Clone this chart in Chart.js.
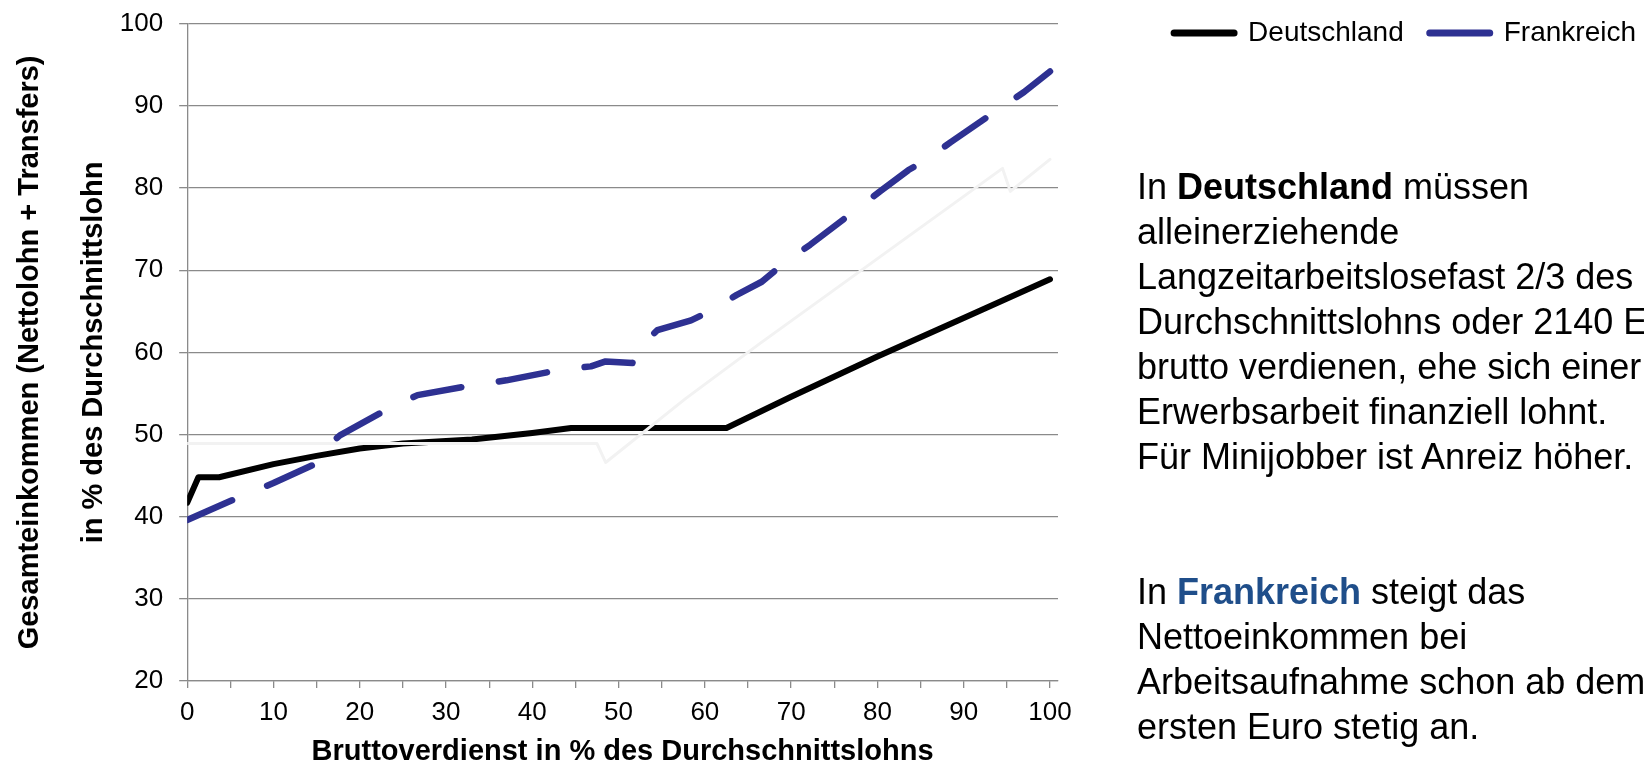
<!DOCTYPE html>
<html lang="de">
<head>
    <meta charset="UTF-8">
    <title>Gesamteinkommen Deutschland / Frankreich</title>
    <script src="https://cdn.jsdelivr.net/npm/chart.js"></script>
    <style>
        body {
            margin: 0;
            width: 1644px;
            height: 766px;
            overflow: hidden;
            background: #fff;
            font-family: "Liberation Sans", Arial, sans-serif;
        }

        #chart {
            position: absolute;
            left: 0;
            top: 0;
        }

        .note {
            position: absolute;
            left: 1137px;
            top: 164px;
            font-size: 36px;
            line-height: 45px;
            white-space: nowrap;
            color: #000;
        }

        .note .fr {
            color: #1f4e8a;
        }
    </style>
</head>
<body>
    <canvas id="chart" width="1644" height="766"></canvas>

    <div class="note">
        In <b>Deutschland</b> müssen<br>
        alleinerziehende<br>
        Langzeitarbeitslosefast 2/3 des<br>
        Durchschnittslohns oder 2140 Euro<br>
        brutto verdienen, ehe sich einer<br>
        Erwerbsarbeit finanziell lohnt.<br>
        Für Minijobber ist Anreiz höher.<br>
        <br>
        <br>
        In <b class="fr">Frankreich</b> steigt das<br>
        Nettoeinkommen bei<br>
        Arbeitsaufnahme schon ab dem<br>
        ersten Euro stetig an.
    </div>

    <script>
        // Bruttoverdienst (x) und Gesamteinkommen (y), jeweils in % des Durchschnittslohns
        const deX = [0, 1.3, 3.7, 10, 15, 20, 25, 33, 40, 44.5, 62.5, 70, 80, 90, 100];
        const deY = [41.7, 44.8, 44.8, 46.4, 47.4, 48.3, 48.9, 49.4, 50.2, 50.8, 50.8, 54.6, 59.5, 64.2, 68.9];

        const frX = [0, 5, 10, 14.6, 15.2, 17.7, 23.4, 26.7, 33, 37, 43.3, 46.8, 48.5, 51.6, 52.2, 54.5,
                     58.4, 60.4, 63.7, 66.6, 69.1, 72.2, 77.2, 80.3, 83.6, 85.6, 88.5, 93.9, 97, 100];
        const frY = [39.6, 41.9, 44.1, 46.3, 47.6, 49.9, 53.2, 54.8, 56.0, 56.6, 57.9, 58.3, 58.9, 58.7, 60.5, 62.7,
                     63.9, 64.9, 67.0, 68.6, 70.8, 73.1, 77.1, 79.6, 82.2, 83.4, 85.6, 89.5, 91.7, 94.2];

        // kaum sichtbare Hilfslinie (Minijob)
        const mjX = [0, 47.5, 48.5, 57.8, 66.4, 94.5, 95.4, 100];
        const mjY = [48.9, 48.9, 46.6, 54.4, 61.1, 82.4, 79.6, 83.5];

        const seriesNames = ['Deutschland', 'Frankreich', 'Minijob'];
        const xTitle = 'Bruttoverdienst in % des Durchschnittslohns';
        const yTitle = ['Gesamteinkommen (Nettolohn + Transfers)', 'in % des Durchschnittslohn'];

        const FONT = '"Liberation Sans", Arial, sans-serif';
        const GRID = '#8a8a8a';

        function points(xs, ys) {
            return xs.map((x, i) => ({ x: x, y: ys[i] }));
        }

        // Legende oben rechts, ohne dass sie Platz über der Zeichenfläche belegt
        const legendOverlay = {
            id: 'legendOverlay',
            afterInit(chart) {
                const legend = chart.legend;
                const fit = legend.fit.bind(legend);
                legend.fit = function () {
                    fit();
                    legend.fullHeight = legend.height;
                    legend.height = 0;
                };
            },
            afterLayout(chart) {
                const legend = chart.legend;
                legend.top = -7;
                legend.right = 1662;
                legend.height = legend.fullHeight;
                legend.bottom = legend.top + legend.height;
            }
        };

        const ctx = document.getElementById('chart').getContext('2d');

        new Chart(ctx, {
            type: 'line',
            data: {
                datasets: [{
                    label: seriesNames[0],
                    data: points(deX, deY),
                    borderColor: '#000000',
                    borderWidth: 6,
                    order: 2
                }, {
                    label: seriesNames[1],
                    data: points(frX, frY),
                    borderColor: '#2e3192',
                    borderWidth: 6.5,
                    borderDash: [49, 38],
                    order: 0
                }, {
                    label: seriesNames[2],
                    data: points(mjX, mjY),
                    borderColor: '#f2f2f2',
                    borderWidth: 3,
                    order: 1
                }]
            },
            options: {
                responsive: false,
                animation: false,
                devicePixelRatio: 1,
                elements: {
                    point: { radius: 0 },
                    line: {
                        tension: 0,
                        fill: false,
                        borderCapStyle: 'round',
                        borderJoinStyle: 'round'
                    }
                },
                layout: {
                    padding: { top: 23.7, left: 0, right: 0, bottom: 0 }
                },
                plugins: {
                    tooltip: { enabled: false },
                    legend: {
                        position: 'top',
                        align: 'end',
                        labels: {
                            color: '#000',
                            font: { family: FONT, size: 28 },
                            padding: 26,
                            usePointStyle: true,
                            pointStyle: 'line',
                            pointStyleWidth: 60,
                            generateLabels(chart) {
                                const base = Chart.defaults.plugins.legend.labels.generateLabels(chart);
                                return base
                                    .filter(item => item.datasetIndex < 2)
                                    .sort((a, b) => a.datasetIndex - b.datasetIndex)
                                    .map(item => Object.assign(item, {
                                        lineDash: [],
                                        lineWidth: 7,
                                        lineCap: 'round',
                                        pointStyle: 'line'
                                    }));
                            }
                        }
                    }
                },
                scales: {
                    x: {
                        type: 'linear',
                        min: 0,
                        max: 100.93,
                        grid: {
                            drawOnChartArea: false,
                            drawTicks: true,
                            tickLength: 7,
                            color: GRID,
                            lineWidth: 1.3
                        },
                        border: { color: GRID, width: 1.3 },
                        ticks: {
                            stepSize: 5,
                            includeBounds: false,
                            autoSkip: false,
                            maxRotation: 0,
                            padding: 9,
                            color: '#000',
                            font: { family: FONT, size: 26 },
                            callback: v => (v % 10 === 0 ? v : '')
                        },
                        title: {
                            display: true,
                            text: xTitle,
                            color: '#000',
                            font: { family: FONT, size: 29, weight: 'bold', lineHeight: 1 },
                            padding: { top: 0, bottom: -0.2 }
                        }
                    },
                    y: {
                        type: 'linear',
                        position: 'left',
                        min: 20,
                        max: 100,
                        grid: {
                            color: GRID,
                            lineWidth: 1.3,
                            tickLength: 8
                        },
                        border: { color: GRID, width: 1.3 },
                        ticks: {
                            stepSize: 10,
                            padding: 16,
                            color: '#000',
                            font: { family: FONT, size: 26, lineHeight: 0.6 }
                        },
                        title: {
                            display: true,
                            text: yTitle,
                            color: '#000',
                            font: { family: FONT, size: 29, weight: 'bold', lineHeight: '64px' },
                            padding: { top: -2, bottom: -22.2 }
                        }
                    },
                    // leerer Bereich rechts für Legende und Text
                    side: {
                        type: 'linear',
                        position: 'right',
                        display: true,
                        grid: { display: false },
                        border: { display: false },
                        ticks: { display: false },
                        afterFit(scale) {
                            scale.width = 586;
                        }
                    }
                }
            },
            plugins: [legendOverlay]
        });
    </script>
</body>
</html>
